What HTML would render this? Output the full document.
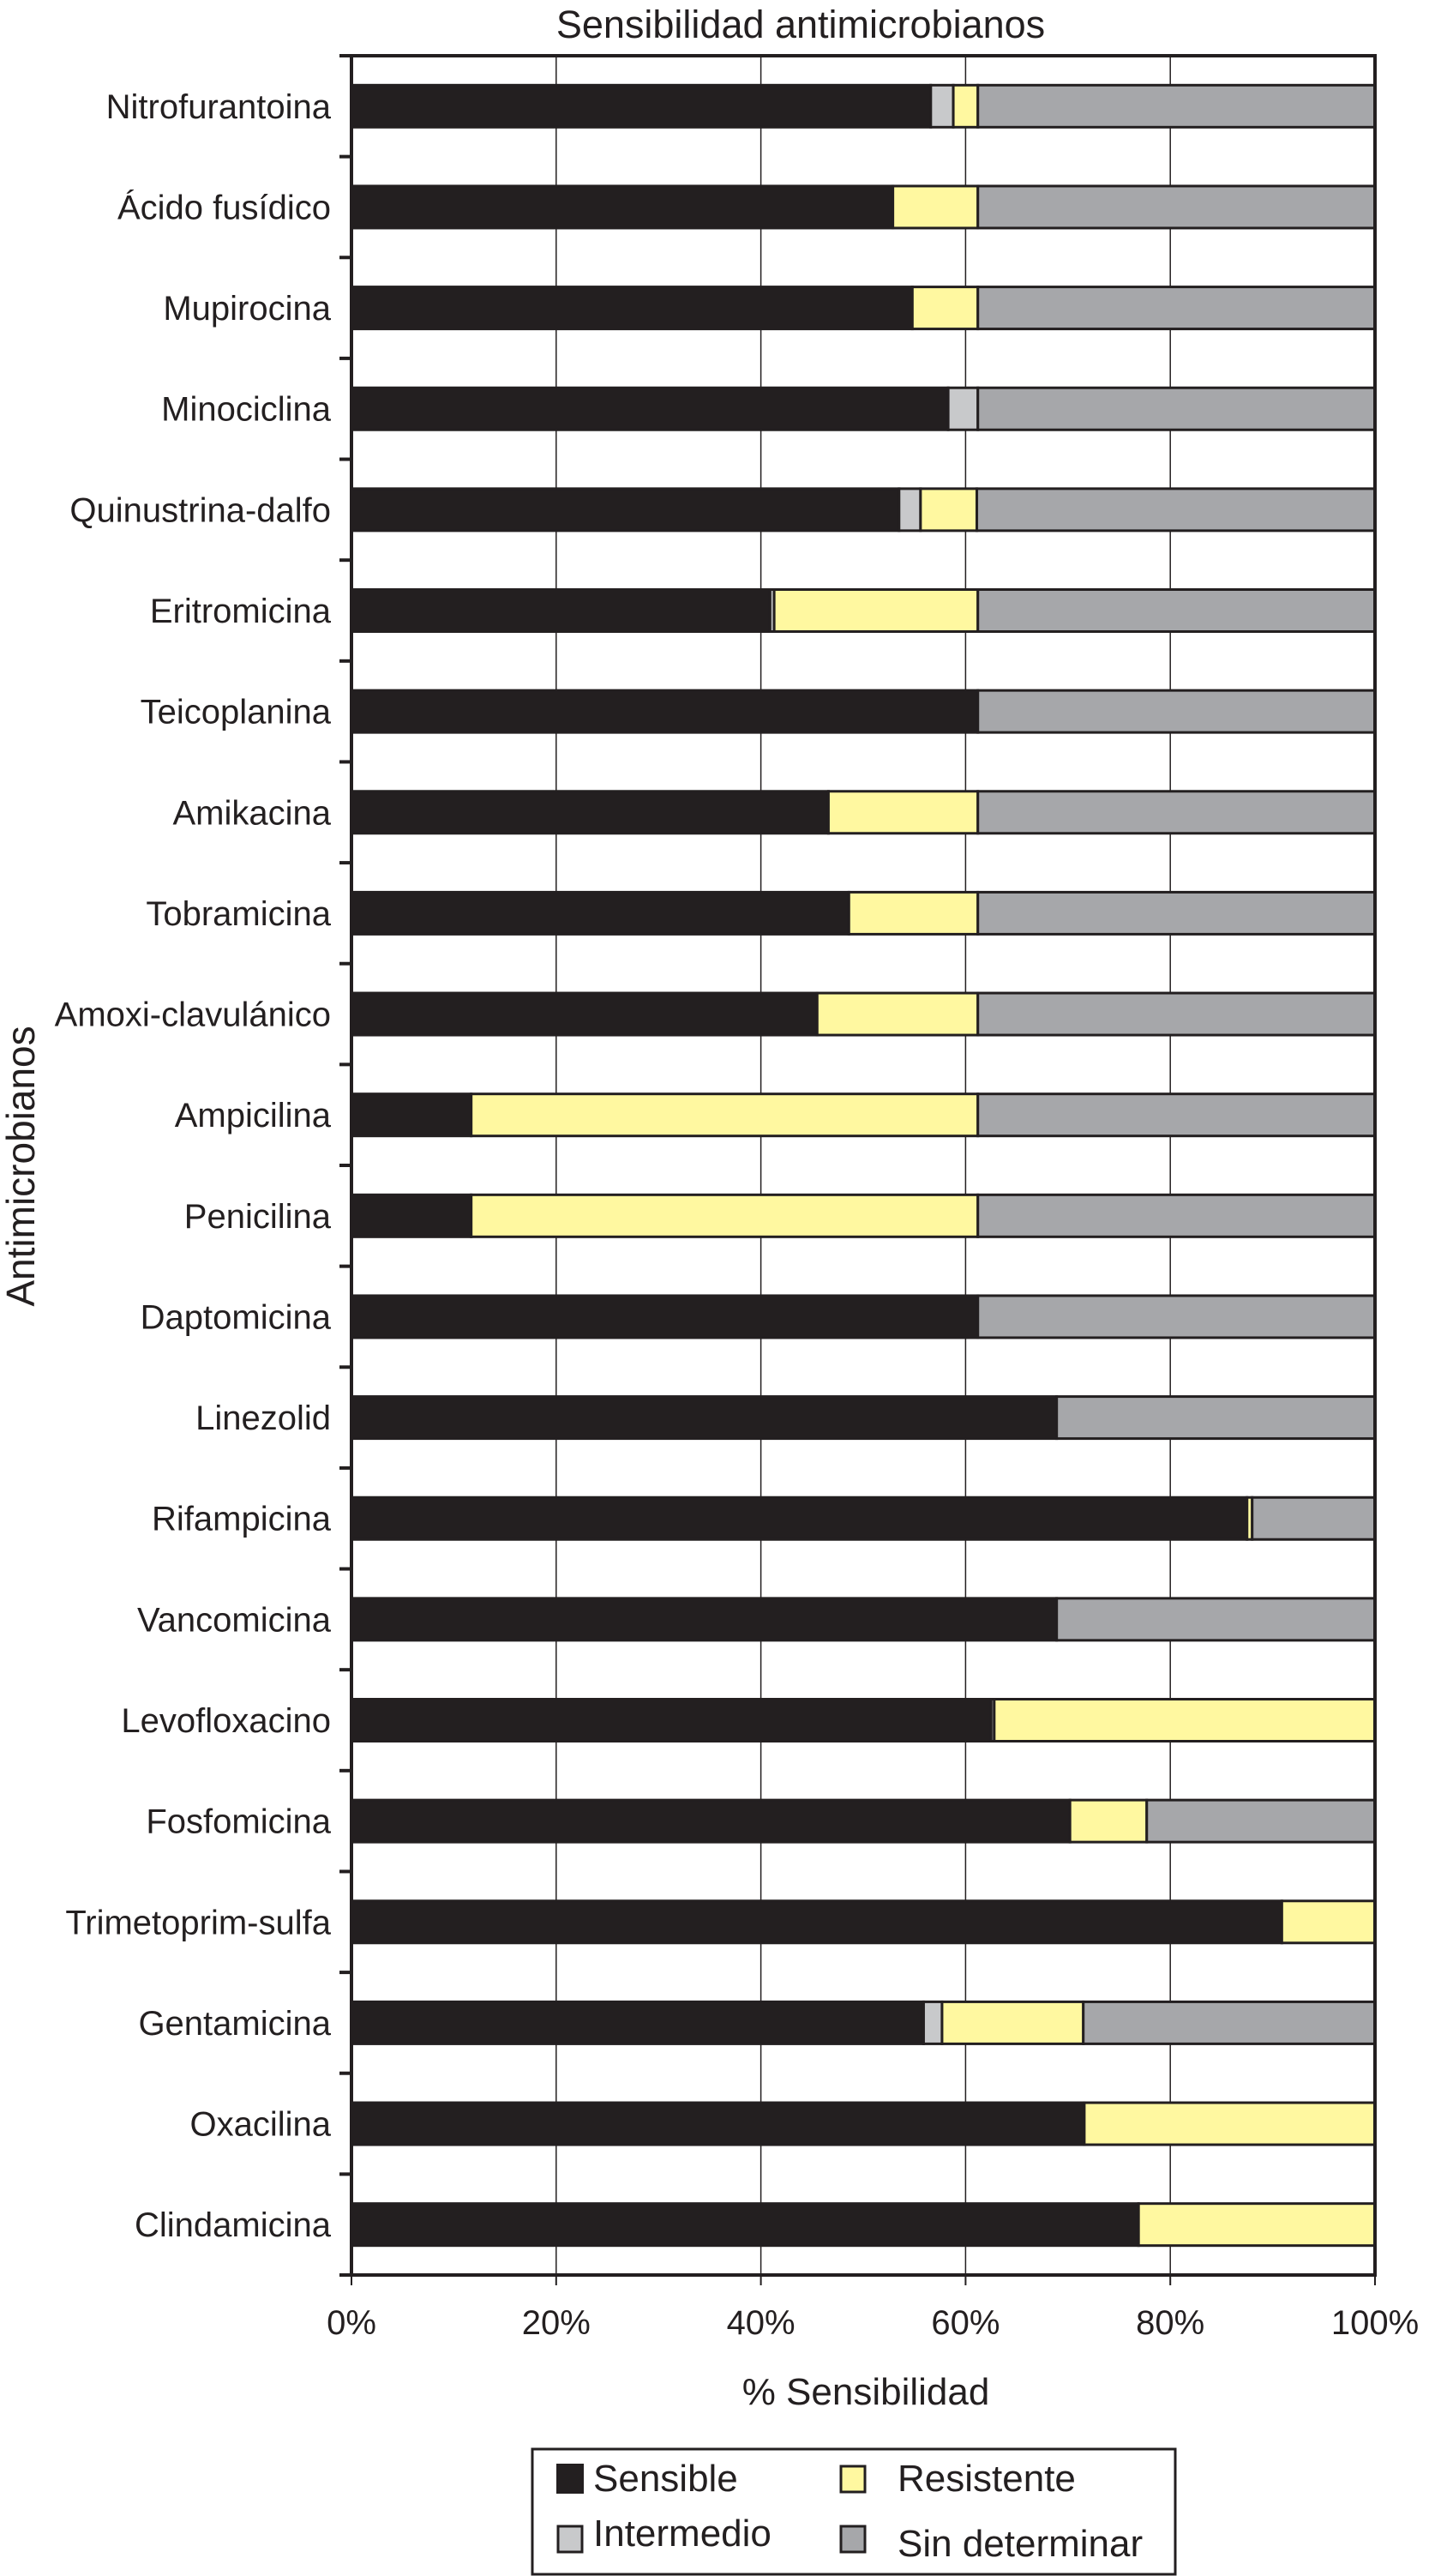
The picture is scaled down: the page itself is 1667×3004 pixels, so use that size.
<!DOCTYPE html>
<html><head><meta charset="utf-8"><style>
html,body{margin:0;padding:0;background:#fff;}
svg{display:block;font-family:"Liberation Sans",Arial,sans-serif;}
</style></head><body>
<svg id="chart" width="1667" height="3004" viewBox="0 0 1667 3004" xmlns="http://www.w3.org/2000/svg">
<text x="934" y="44" text-anchor="middle" font-size="45" fill="#231f20">Sensibilidad antimicrobianos</text>
<g id="grid"></g>
<g id="bars"></g>
<g id="axes"></g>
<text x="1010" y="2804" text-anchor="middle" font-size="44" fill="#231f20">% Sensibilidad</text>
<text x="0" y="0" transform="translate(40,1360) rotate(-90)" text-anchor="middle" font-size="46" fill="#231f20">Antimicrobianos</text>
<g>
  <rect x="621" y="2856" width="750" height="146" fill="#fff" stroke="#231f20" stroke-width="3"/>
  <rect x="650" y="2874" width="30" height="33" fill="#231f20" stroke="#231f20" stroke-width="2"/>
  <text x="692" y="2905" font-size="44" fill="#231f20">Sensible</text>
  <rect x="981" y="2876" width="28" height="30" fill="#fff8a0" stroke="#231f20" stroke-width="3"/>
  <text x="1047" y="2905" font-size="44" fill="#231f20">Resistente</text>
  <rect x="651" y="2946" width="28" height="30" fill="#c8c9cb" stroke="#231f20" stroke-width="3"/>
  <text x="692" y="2969" font-size="44" fill="#231f20">Intermedio</text>
  <rect x="981" y="2946" width="28" height="30" fill="#a6a7aa" stroke="#231f20" stroke-width="3"/>
  <text x="1047" y="2981" font-size="44" fill="#231f20">Sin determinar</text>
</g>
</svg>
<script>
const categories = ["Nitrofurantoina","Ácido fusídico","Mupirocina","Minociclina","Quinustrina-dalfo","Eritromicina","Teicoplanina","Amikacina","Tobramicina","Amoxi-clavulánico","Ampicilina","Penicilina","Daptomicina","Linezolid","Rifampicina","Vancomicina","Levofloxacino","Fosfomicina","Trimetoprim-sulfa","Gentamicina","Oxacilina","Clindamicina"];
const sensible   = [56.6,52.9,54.8,58.3,53.5,40.9,61.2,46.6,48.6,45.5,11.7,11.7,61.2,68.9,87.5,68.9,62.5,70.2,90.9,55.9,71.6,76.9];
const intermedio = [2.2,0,0,2.9,2.1,0.4,0,0,0,0,0,0,0,0,0,0,0.3,0,0,1.8,0,0];
const resistente = [2.4,8.3,6.4,0,5.5,19.9,0,14.6,12.6,15.7,49.5,49.5,0,0,0.5,0,37.2,7.5,9.1,13.8,28.4,23.1];
const xTicks = [0,20,40,60,80,100];
const xTickLabels = ["0%","20%","40%","60%","80%","100%"];

const NS="http://www.w3.org/2000/svg";
const L=410,R=1604,T=65,B=2653;
const band=(B-T)/categories.length, barH=49;
const xs=v=>L+(R-L)*v/100;
const yc=i=>T+band*(i+0.5);
function mk(tag,attrs,parent){const e=document.createElementNS(NS,tag);for(const k in attrs)e.setAttribute(k,attrs[k]);parent.appendChild(e);return e;}
const grid=document.getElementById('grid'),bars=document.getElementById('bars'),axes=document.getElementById('axes');
xTicks.forEach((t,i)=>{
  if(t>0&&t<100){const g=mk('line',{x1:xs(t),x2:xs(t),y1:T,y2:B,stroke:'#231f20','stroke-width':1.5},grid);
  
  }
  const tk=mk('line',{x1:xs(t),x2:xs(t),y1:B,y2:B+12,stroke:'#231f20','stroke-width':2},axes);
  
  
  const lb=mk('text',{x:xs(t),y:2722,'text-anchor':'middle','font-size':40,fill:'#231f20'},axes);
  lb.textContent=xTickLabels[i];
  
  
});
const colors=['#231f20','#c8c9cb','#fff8a0','#a6a7aa'];
const segNames=['sensible','intermedio','resistente','sin-determinar'];
categories.forEach((c,i)=>{
  const vals=[sensible[i],intermedio[i],resistente[i]];
  vals.push(Math.max(0,100-vals[0]-vals[1]-vals[2]));
  let acc=0;const y=yc(i)-barH/2;
  vals.forEach((v,k)=>{
    if(v<=0){return;}
    const r=mk('rect',{x:xs(acc),y:y,width:xs(acc+v)-xs(acc),height:barH,fill:colors[k],stroke:'#231f20','stroke-width':3},bars);
    
    
    acc+=v;
  });
  const t=mk('text',{x:386,y:yc(i)+14,'text-anchor':'end','font-size':40,fill:'#231f20'},axes);
  t.textContent=c;
  
  
});
for(let i=0;i<=categories.length;i++){
  const tk=mk('line',{x1:396,x2:L,y1:T+band*i,y2:T+band*i,stroke:'#231f20','stroke-width':4},axes);
  
  
}
const fr=mk('rect',{x:L,y:T,width:R-L,height:B-T,fill:'none',stroke:'#231f20','stroke-width':4},axes);


</script>
</body></html>
